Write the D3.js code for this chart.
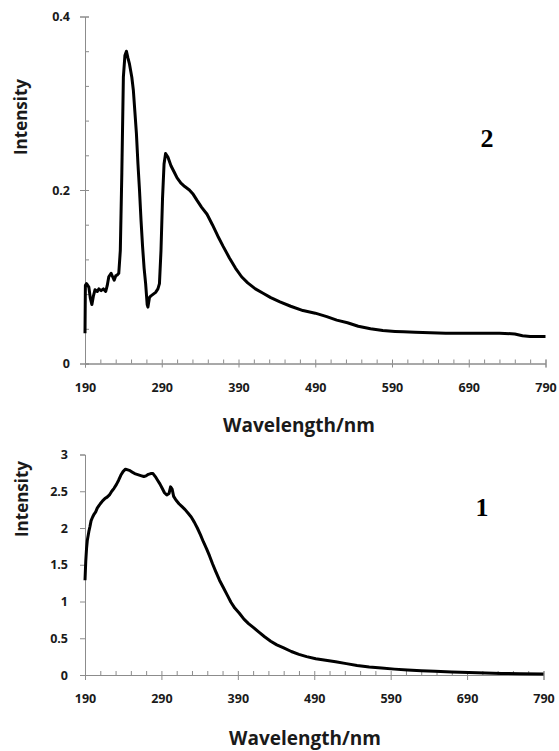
<!DOCTYPE html>
<html>
<head>
<meta charset="utf-8">
<script src="https://cdn.jsdelivr.net/npm/d3@7"></script>
<style>
  body { margin: 0; background: #fff; }
  text { font-family: "Open Sans", sans-serif; }
</style>
</head>
<body>
<div id="plot"></div>
<script>
// spectrum 2 (top panel)
const wave2 = [190,190.5,192,195,197,199,201,203,206,208,211,214,217,219,221,224,226,228,230,232,234,236,238,240,242,244,246,248,251,253,255,257,259,261,263,265,267,269,271,272,274,276,279,282,285,287,289,291,293,295,298,302,306,310,315,320,326,331,336,342,349,356,363,370,378,386,394,402,412,422,432,444,458,474,490,505,518,532,546,562,578,594,605,620,640,660,680,692,710,730,750,760,770,790];
const int2 = [0.035,0.09,0.092,0.088,0.075,0.068,0.078,0.085,0.083,0.086,0.084,0.086,0.083,0.09,0.1,0.104,0.1,0.096,0.101,0.102,0.104,0.13,0.22,0.33,0.355,0.36,0.352,0.345,0.33,0.315,0.29,0.265,0.23,0.2,0.165,0.135,0.11,0.092,0.068,0.065,0.076,0.078,0.08,0.082,0.086,0.092,0.13,0.19,0.23,0.242,0.238,0.228,0.221,0.214,0.208,0.204,0.2,0.195,0.188,0.18,0.172,0.16,0.147,0.135,0.122,0.11,0.1,0.093,0.086,0.081,0.076,0.071,0.066,0.061,0.058,0.054,0.05,0.047,0.043,0.04,0.038,0.037,0.0365,0.036,0.0355,0.035,0.035,0.035,0.035,0.035,0.034,0.032,0.031,0.031];

// spectrum 1 (bottom panel)
const wave1 = [190,191,192,193,195,196.5,198,200,202,204,206,208,210,213,216,219,222,225,228,231,234,237,240,243,246,249,252,255,258,261,264,267,270,273,276,279,282,285,288,291,294,297,300,302,304,306,309,313,317,321,325,329,333,337,341,345,349,353,357,361,366,371,376,381,386,392,398,404,411,418,425,433,441,450,460,470,480,492,505,518,532,546,562,578,595,612,630,648,670,692,714,735,760,790];
const int1 = [1.29,1.55,1.72,1.83,1.95,2.02,2.1,2.15,2.19,2.22,2.27,2.3,2.33,2.37,2.4,2.42,2.45,2.5,2.54,2.59,2.65,2.72,2.77,2.8,2.79,2.78,2.76,2.74,2.73,2.72,2.71,2.7,2.71,2.73,2.74,2.74,2.7,2.65,2.6,2.54,2.48,2.45,2.47,2.56,2.53,2.43,2.38,2.33,2.29,2.25,2.2,2.15,2.08,2.0,1.91,1.81,1.72,1.62,1.51,1.41,1.29,1.19,1.09,0.99,0.91,0.84,0.76,0.7,0.64,0.58,0.52,0.46,0.41,0.37,0.32,0.28,0.25,0.22,0.2,0.18,0.155,0.13,0.11,0.095,0.08,0.068,0.057,0.05,0.042,0.035,0.028,0.022,0.017,0.015];

const xTicks = [190,290,390,490,590,690,790];
const yTicks2 = [0,0.2,0.4];
const yTicks1 = [0,0.5,1,1.5,2,2.5,3];

const w = 559;
const h = 751;
const axisColor = "#8c8c8c";
const labelColor = "#1a1a1a";

const svg = d3.select("div#plot")
  .append("svg")
  .attr("width", w)
  .attr("height", h);

svg.append("rect")
  .attr("width", w)
  .attr("height", h)
  .attr("fill", "white");

function styleAxis(g) {
  g.select(".domain").attr("stroke", axisColor);
  g.selectAll(".tick line").attr("stroke", axisColor);
  g.selectAll(".tick text")
    .attr("fill", labelColor)
    .style("font-size", "12.5px")
    .style("font-weight", "bold")
    .style("font-family", "'Open Sans', sans-serif");
}

function drawPanel(cfg) {
  const x = d3.scaleLinear().domain([190, 790]).range([85, cfg.xEnd]);
  const y = d3.scaleLinear().domain(cfg.yDomain).range(cfg.yRange);
  const y0 = cfg.yRange[0];

  // minor x ticks, pointing up
  svg.append("g")
    .attr("transform", `translate(0,${y0})`)
    .call(d3.axisTop(x).tickValues(d3.range(190, 791, 20)).tickSize(4).tickFormat(""))
    .call(styleAxis);

  // major x ticks + labels
  svg.append("g")
    .attr("transform", `translate(0,${y0})`)
    .call(d3.axisBottom(x).tickValues(xTicks).tickSize(cfg.xMajorDown).tickPadding(cfg.xPad).tickFormat(d3.format("d")))
    .call(styleAxis);

  if (cfg.yMinor) {
    svg.append("g")
      .attr("transform", "translate(85,0)")
      .call(d3.axisRight(y).tickValues(cfg.yMinor).tickSize(4).tickFormat(""))
      .call(styleAxis);
  }

  svg.append("g")
    .attr("transform", "translate(85,0)")
    .call(d3.axisLeft(y).tickValues(cfg.yTicks).tickSize(5).tickPadding(cfg.yPad).tickFormat(d => d === 0 ? "0" : d3.format("~g")(d)))
    .call(styleAxis);

  const line = d3.line()
    .x((d, i) => x(cfg.wave[i]))
    .y(d => y(d));

  svg.append("path")
    .datum(cfg.vals)
    .attr("fill", "none")
    .attr("stroke", "black")
    .attr("stroke-width", 3)
    .attr("stroke-linejoin", "round")
    .attr("d", line);

  svg.append("text")
    .attr("x", cfg.xTitleX)
    .attr("y", cfg.xTitleY)
    .attr("text-anchor", "middle")
    .style("font-size", "19px")
    .style("font-weight", "bold")
    .attr("fill", labelColor)
    .text("Wavelength/nm");

  svg.append("text")
    .attr("transform", `translate(${cfg.yTitleX},${cfg.yTitleY}) rotate(-90)`)
    .attr("text-anchor", "middle")
    .style("font-size", "17px")
    .style("font-weight", "bold")
    .attr("fill", labelColor)
    .text("Intensity");

  svg.append("text")
    .attr("x", cfg.tagX)
    .attr("y", cfg.tagY)
    .attr("text-anchor", "middle")
    .style("font-family", "'Liberation Serif', serif")
    .style("font-size", "26px")
    .style("font-weight", "bold")
    .attr("fill", "black")
    .text(cfg.tag);
}

drawPanel({
  wave: wave2, vals: int2,
  xEnd: 545.5,
  yDomain: [0, 0.4], yRange: [363.5, 16.5],
  yTicks: yTicks2, yMinor: d3.range(0, 0.41, 0.04),
  xMajorDown: 4, xPad: 16, yPad: 10,
  xTitleX: 299, xTitleY: 432, yTitleX: 27, yTitleY: 117,
  tag: "2", tagX: 487, tagY: 147
});

drawPanel({
  wave: wave1, vals: int1,
  xEnd: 543.5,
  yDomain: [0, 3], yRange: [675, 454.5],
  yTicks: yTicks1, yMinor: null,
  xMajorDown: 5, xPad: 14, yPad: 12,
  xTitleX: 305, xTitleY: 745, yTitleX: 28, yTitleY: 499,
  tag: "1", tagX: 482, tagY: 516
});
</script>
</body>
</html>
